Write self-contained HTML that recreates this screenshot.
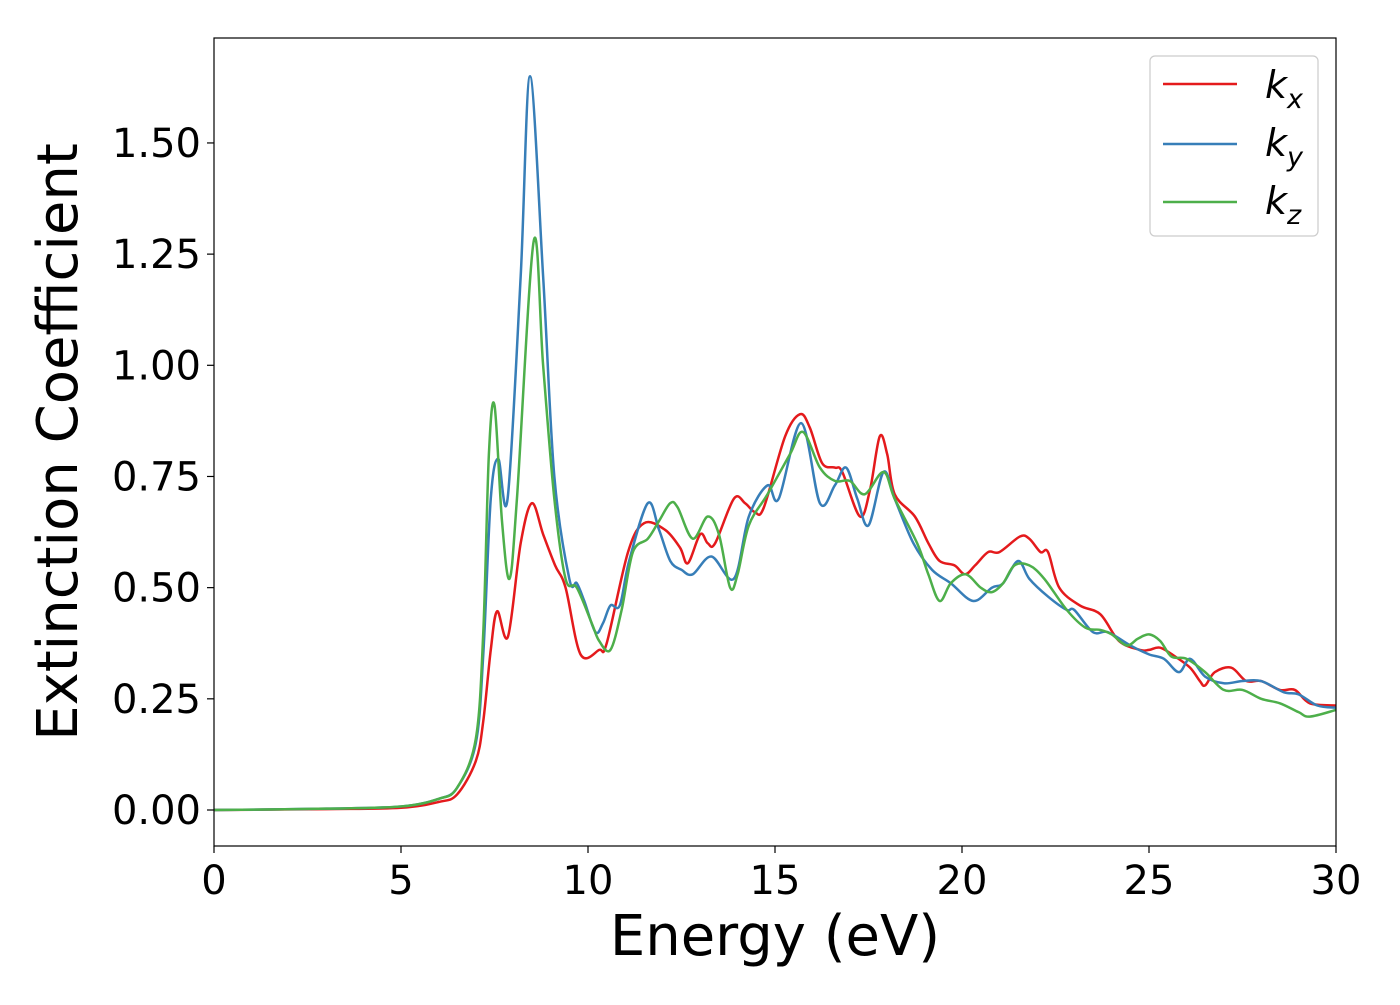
<!DOCTYPE html>
<html><head><meta charset="utf-8"><style>
body{margin:0;background:#fff;}
svg text{font-family:"DejaVu Sans","Liberation Sans",sans-serif;}
</style></head><body>
<svg id="chart" width="1400" height="1000" viewBox="0 0 1400 1000" xmlns="http://www.w3.org/2000/svg">
<rect x="0" y="0" width="1400" height="1000" fill="#fff"/>
<g id="series"></g>
<rect x="214" y="38" width="1122" height="808" fill="none" stroke="#000" stroke-width="1.2"/>
<g id="xticks"></g>
<g id="yticks"></g>
<text x="775" y="955" font-size="56" text-anchor="middle">Energy (eV)</text>
<text transform="translate(77,442) rotate(-90)" font-size="56" text-anchor="middle">Extinction Coefficient</text>
<g>
<rect x="1150" y="56" width="168" height="180" rx="5" fill="#fff" stroke="#ccc" stroke-width="1.2"/>
<g><line x1="1163" y1="84" x2="1237" y2="84" stroke="#e41a1c" stroke-width="2.5"/><text x="1265" y="98" font-size="38" font-style="italic">k<tspan font-size="27" dy="10">x</tspan></text></g>
<g><line x1="1163" y1="144" x2="1237" y2="144" stroke="#377eb8" stroke-width="2.5"/><text x="1265" y="156" font-size="38" font-style="italic">k<tspan font-size="27" dy="10">y</tspan></text></g>
<g><line x1="1163" y1="202" x2="1237" y2="202" stroke="#4daf4a" stroke-width="2.5"/><text x="1265" y="214" font-size="38" font-style="italic">k<tspan font-size="27" dy="10">z</tspan></text></g>
</g>
</svg>
<script>
const xTicks=[0,5,10,15,20,25,30];
const yTicks=[0,0.25,0.5,0.75,1.0,1.25,1.5];
const kxE=[0,3,5,6,6.5,7,7.2,7.4,7.57,7.86,8.2,8.5,8.8,9.12,9.4,9.8,10.3,10.5,11.07,11.5,12.06,12.46,12.67,13,13.2,13.4,13.9,14.2,14.46,14.7,15.27,15.67,15.93,16.26,16.6,16.8,17.27,17.54,17.8,18,18.2,18.74,19.1,19.4,19.8,20.08,20.35,20.7,21,21.55,21.8,22.1,22.3,22.6,23.15,23.7,24.2,24.76,25,25.3,25.7,26.1,26.36,26.5,26.76,27.2,27.6,28,28.5,28.9,29.3,30];
const kxV=[0,0.002,0.005,0.018,0.035,0.11,0.2,0.36,0.447,0.39,0.6,0.69,0.62,0.55,0.5,0.35,0.36,0.375,0.58,0.645,0.63,0.59,0.555,0.62,0.6,0.6,0.7,0.69,0.67,0.68,0.84,0.89,0.86,0.78,0.77,0.76,0.66,0.72,0.84,0.8,0.71,0.66,0.6,0.56,0.55,0.53,0.55,0.58,0.58,0.615,0.61,0.58,0.58,0.5,0.46,0.44,0.38,0.36,0.36,0.365,0.345,0.32,0.29,0.28,0.31,0.32,0.29,0.29,0.27,0.27,0.24,0.235];
const kyE=[0,3,5,6,6.5,7,7.2,7.4,7.6,7.85,8.2,8.45,8.8,9.1,9.5,9.7,9.9,10.2,10.4,10.6,10.85,11.1,11.6,11.9,12.2,12.5,12.8,13.3,13.9,14.3,14.8,15.1,15.7,16.2,16.6,16.9,17.2,17.5,17.9,18.2,18.7,19.2,19.7,20.3,20.8,21.1,21.5,21.8,22.3,22.8,23.0,23.5,23.9,24.5,25,25.4,25.8,26.1,26.5,27,27.5,28,28.6,29,29.5,30];
const kyV=[0,0.003,0.008,0.025,0.05,0.15,0.35,0.7,0.79,0.7,1.2,1.65,1.2,0.75,0.52,0.51,0.47,0.4,0.42,0.46,0.46,0.56,0.69,0.63,0.56,0.54,0.53,0.57,0.52,0.66,0.73,0.7,0.87,0.69,0.73,0.77,0.7,0.64,0.76,0.7,0.6,0.54,0.51,0.47,0.5,0.51,0.56,0.52,0.48,0.45,0.45,0.4,0.4,0.37,0.35,0.34,0.31,0.34,0.3,0.285,0.29,0.29,0.265,0.26,0.235,0.23];
const kzE=[0,3,5,6,6.5,7,7.2,7.35,7.5,7.7,7.9,8.1,8.55,8.8,9.1,9.4,9.7,10.1,10.3,10.6,10.9,11.2,11.6,11.9,12.2,12.4,12.8,13.2,13.5,13.8,14.0,14.3,14.8,15.4,15.75,16.2,16.6,17.0,17.4,17.9,18.2,18.8,19.1,19.4,19.7,20.1,20.5,20.8,21.1,21.4,21.8,22.2,22.8,23.3,23.7,24.0,24.4,24.7,25,25.3,25.6,26,26.5,27,27.5,28,28.5,29,29.3,30];
const kzV=[0,0.003,0.008,0.025,0.05,0.16,0.4,0.8,0.91,0.65,0.52,0.7,1.28,1.0,0.7,0.52,0.5,0.42,0.38,0.36,0.45,0.58,0.61,0.65,0.69,0.68,0.61,0.66,0.62,0.5,0.53,0.64,0.71,0.8,0.85,0.77,0.74,0.74,0.71,0.76,0.7,0.6,0.53,0.47,0.51,0.53,0.5,0.49,0.51,0.55,0.55,0.52,0.45,0.41,0.405,0.395,0.37,0.385,0.395,0.38,0.345,0.34,0.31,0.27,0.27,0.25,0.24,0.22,0.21,0.225];

const X0=214,X1=1336,XMIN=0,XMAX=30;
const Y0=810,YS=444.7;
function xs(v){return X0+(v-XMIN)/(XMAX-XMIN)*(X1-X0);}
function ys(v){return Y0-v*YS;}
const NS='http://www.w3.org/2000/svg';
function pathFrom(E,V){
  const p=E.map((e,i)=>[xs(e),ys(V[i])]);
  let d='M'+p[0][0].toFixed(2)+','+p[0][1].toFixed(2);
  for(let i=0;i<p.length-1;i++){
    const a=p[i-1]||p[i],b=p[i],c=p[i+1],e=p[i+2]||c;
    const c1=[b[0]+(c[0]-a[0])/6,b[1]+(c[1]-a[1])/6];
    const c2=[c[0]-(e[0]-b[0])/6,c[1]-(e[1]-b[1])/6];
    d+='C'+c1[0].toFixed(2)+','+c1[1].toFixed(2)+' '+c2[0].toFixed(2)+','+c2[1].toFixed(2)+' '+c[0].toFixed(2)+','+c[1].toFixed(2);
  }
  return d;
}
const sg=document.getElementById('series');
[['kx',kxE,kxV,'#e41a1c'],['ky',kyE,kyV,'#377eb8'],['kz',kzE,kzV,'#4daf4a']].forEach(s=>{
  const path=document.createElementNS(NS,'path');
  path.setAttribute('d',pathFrom(s[1],s[2]));
  path.setAttribute('fill','none');
  path.setAttribute('stroke',s[3]);
  path.setAttribute('stroke-width','2.5');
  
  
  sg.appendChild(path);
});
const xg=document.getElementById('xticks');
xTicks.forEach(t=>{
  const l=document.createElementNS(NS,'line');
  l.setAttribute('x1',xs(t));l.setAttribute('x2',xs(t));l.setAttribute('y1',846);l.setAttribute('y2',853);
  l.setAttribute('stroke','#000');l.setAttribute('stroke-width','1.2');
  
  
  xg.appendChild(l);
  const tx=document.createElementNS(NS,'text');
  tx.setAttribute('x',xs(t));tx.setAttribute('y',894);tx.setAttribute('font-size','40');tx.setAttribute('text-anchor','middle');
  tx.textContent=String(t);
  
  
  xg.appendChild(tx);
});
const yg=document.getElementById('yticks');
yTicks.forEach(t=>{
  const l=document.createElementNS(NS,'line');
  l.setAttribute('x1',207);l.setAttribute('x2',214);l.setAttribute('y1',ys(t));l.setAttribute('y2',ys(t));
  l.setAttribute('stroke','#000');l.setAttribute('stroke-width','1.2');
  
  
  yg.appendChild(l);
  const tx=document.createElementNS(NS,'text');
  tx.setAttribute('x',201);tx.setAttribute('y',ys(t)+14);tx.setAttribute('font-size','40');tx.setAttribute('text-anchor','end');
  tx.textContent=t.toFixed(2);
  
  
  yg.appendChild(tx);
});
</script>
</body></html>
